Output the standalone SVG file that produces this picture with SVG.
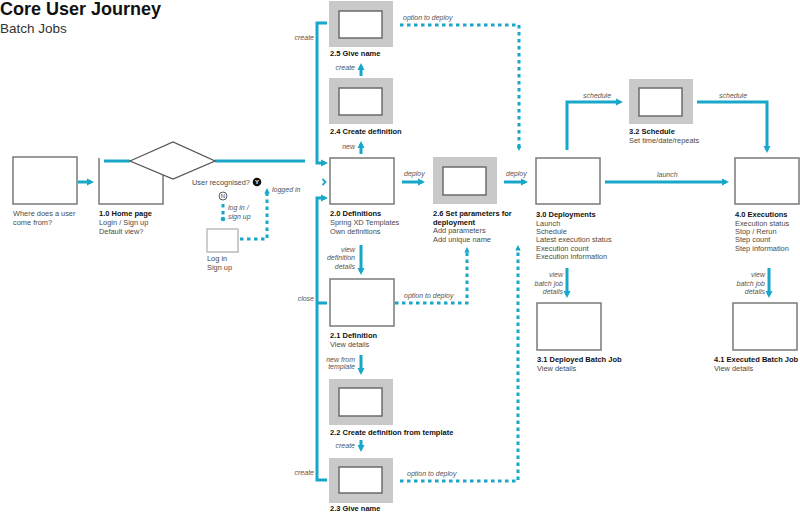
<svg xmlns="http://www.w3.org/2000/svg" width="800" height="512" viewBox="0 0 800 512">
<style>
text{font-family:"Liberation Sans",Arial,Helvetica,sans-serif}
.box{fill:#fff;stroke:#7a7a7a;stroke-width:1.5}
.frame{fill:#c9c9c9}
.inner{fill:#fff;stroke:#6b6b6b;stroke-width:1.5}
.t{font-size:7.4px;fill:#4a4a4a}
.b{font-size:7.5px;font-weight:bold;fill:#111}
.l{font-size:7px;font-style:italic;fill:#555}
.c{fill:none;stroke:#19a7c9;stroke-width:3}
.d{fill:none;stroke:#19a7c9;stroke-width:3;stroke-dasharray:3.5 3.5}
.e{text-anchor:end}
</style>
<defs>
<marker id="ah" markerWidth="8" markerHeight="8" refX="4" refY="4" orient="auto" markerUnits="userSpaceOnUse"><path d="M0,0.5 L7,4 L0,7.5 z" fill="#19a7c9"/></marker>
<marker id="as" markerWidth="7" markerHeight="7" refX="2.5" refY="3.5" orient="auto" markerUnits="userSpaceOnUse"><path d="M0,0.8 L5.5,3.5 L0,6.2 z" fill="#19a7c9"/></marker>
<marker id="dot" markerWidth="6" markerHeight="6" refX="3" refY="3" orient="auto" markerUnits="userSpaceOnUse"><circle cx="3" cy="3" r="2.3" fill="#19a7c9"/></marker>
</defs>
<rect width="800" height="512" fill="#fff"/>
<g id="title">
<text x="0" y="15" style="font-size:18px;font-weight:bold;fill:#111">Core User Journey</text>
<text x="0" y="33" style="font-size:13.5px;fill:#333">Batch Jobs</text>
</g>
<g id="connectors">
<path class="c" d="M78,182 H91" marker-end="url(#ah)"/>
<path class="c" d="M104,161 H130"/>
<path class="c" d="M215,161 H305"/>
<path d="M322.5,179 L325.5,182 L322.5,185" fill="none" stroke="#19a7c9" stroke-width="1.8"/>
<path class="c" d="M327,23 H317 V163 H325" marker-end="url(#ah)"/>
<path class="c" d="M327,480 H317 V198 H325" marker-end="url(#ah)"/>
<path class="c" d="M317,303 H327"/>
<path class="c" d="M361,154 V144" marker-end="url(#ah)"/>
<path class="c" d="M361,76 V66" marker-end="url(#ah)"/>
<path class="c" d="M402,182 H422" marker-end="url(#ah)"/>
<path class="c" d="M504,182 H525" marker-end="url(#ah)"/>
<path class="c" d="M567,150 V102 H620" marker-end="url(#ah)"/>
<path class="c" d="M697,102 H767 V150" marker-end="url(#ah)"/>
<path class="c" d="M605,182 H726" marker-end="url(#ah)"/>
<path class="c" d="M361,245 V272" marker-end="url(#ah)"/>
<path class="c" d="M361,355 V372" marker-end="url(#ah)"/>
<path class="c" d="M361,440 V449" marker-end="url(#ah)"/>
<path class="c" d="M567,268 V295" marker-end="url(#ah)"/>
<path class="c" d="M769,268 V295" marker-end="url(#ah)"/>
<path class="d" d="M400,25 H519 V148" marker-end="url(#as)"/>
<path class="d" d="M395,303 H467 V250" marker-end="url(#as)"/>
<path class="d" d="M400,481 H518 V248" marker-end="url(#as)"/>
<path class="d" d="M223,204 V219" marker-end="url(#dot)"/>
<path class="d" d="M240,239 H267 V191" marker-end="url(#as)"/>
<text class="l e" x="314" y="40">create</text>
<text class="l e" x="314" y="301">close</text>
<text class="l e" x="314" y="475">create</text>
<text class="l" x="403" y="20">option to deploy</text>
<text class="l e" x="355" y="69.5">create</text>
<text class="l e" x="355" y="148.5">new</text>
<text class="l" x="404" y="176">deploy</text>
<text class="l" x="506" y="176">deploy</text>
<text class="l e" x="355" y="252">view</text>
<text class="l e" x="355" y="260">definition</text>
<text class="l e" x="355" y="268.5">details</text>
<text class="l" x="404" y="298">option to deploy</text>
<text class="l e" x="355" y="361.7">new from</text>
<text class="l e" x="355" y="368.5">template</text>
<text class="l e" x="355" y="448">create</text>
<text class="l" x="407" y="476">option to deploy</text>
<text class="l" x="583" y="98">schedule</text>
<text class="l" x="719" y="98">schedule</text>
<text class="l" x="657" y="177">launch</text>
<text class="l e" x="563" y="276.5">view</text>
<text class="l e" x="563" y="285.5">batch job</text>
<text class="l e" x="563" y="293.5">details</text>
<text class="l e" x="765" y="276.5">view</text>
<text class="l e" x="765" y="285.5">batch job</text>
<text class="l e" x="765" y="293.5">details</text>
<text class="l" x="228" y="210">log in /</text>
<text class="l" x="228" y="219">sign up</text>
<text class="l" x="272" y="192">logged in</text>
</g>
<g id="n_source">
<rect class="box" x="13" y="157" width="64" height="47"/>
<text class="t" x="13" y="216">Where does a user</text>
<text class="t" x="13" y="224.5">come from?</text>
</g>
<g id="n_home">
<path class="box" style="fill:none" d="M99,158 V204 H163 V172"/>
<text class="b" x="99" y="216">1.0 Home page</text>
<text class="t" x="99" y="225">Login / Sign up</text>
<text class="t" x="99" y="233.5">Default view?</text>
</g>
<g id="n_decision">
<polygon points="130,161 173,142 215,161 173,179" fill="#fff" stroke="#555" stroke-width="1.3"/>
<text class="t" x="192" y="185">User recognised?</text>
<circle cx="257" cy="182" r="4.3" fill="#111"/>
<text x="257" y="184.2" text-anchor="middle" style="font-size:6px;font-weight:bold;fill:#fff">Y</text>
<circle cx="223" cy="196" r="4" fill="#fff" stroke="#333" stroke-width="0.8"/>
<text x="223" y="198.2" text-anchor="middle" style="font-size:6px;fill:#333">N</text>
</g>
<g id="n_login">
<rect x="208" y="230" width="31" height="23" fill="#e6e6e6"/>
<rect x="207" y="229" width="31" height="23" fill="#fff" stroke="#bdbdbd" stroke-width="1.5"/>
<text class="t" x="207" y="261">Log in</text>
<text class="t" x="207" y="269.5">Sign up</text>
</g>
<g id="n_2_5">
<rect class="frame" x="329" y="1" width="64" height="46"/>
<rect class="inner" x="339" y="11" width="43" height="27"/>
<text class="b" x="330" y="56">2.5 Give name</text>
</g>
<g id="n_2_4">
<rect class="frame" x="329" y="78" width="64" height="46"/>
<rect class="inner" x="339" y="88" width="43" height="27"/>
<text class="b" x="330" y="134">2.4 Create definition</text>
</g>
<g id="n_2_0">
<rect class="box" x="330" y="158" width="64" height="46"/>
<text class="b" x="330" y="216">2.0 Definitions</text>
<text class="t" x="330" y="225">Spring XD Templates</text>
<text class="t" x="330" y="233.5">Own definitions</text>
</g>
<g id="n_2_6">
<rect class="frame" x="433" y="157" width="64" height="47"/>
<rect class="inner" x="443" y="167" width="43" height="28"/>
<text class="b" x="433" y="216">2.6 Set parameters for</text>
<text class="b" x="433" y="224.5">deployment</text>
<text class="t" x="433" y="233">Add parameters</text>
<text class="t" x="433" y="241.5">Add unique name</text>
</g>
<g id="n_2_1">
<rect class="box" x="330" y="279" width="64" height="47"/>
<text class="b" x="330" y="338">2.1 Definition</text>
<text class="t" x="330" y="347">View details</text>
</g>
<g id="n_2_2">
<rect class="frame" x="329" y="379" width="64" height="46"/>
<rect class="inner" x="339" y="388" width="43" height="28"/>
<text class="b" x="330" y="435">2.2 Create definition from template</text>
</g>
<g id="n_2_3">
<rect class="frame" x="329" y="458" width="64" height="45"/>
<rect class="inner" x="339" y="467" width="43" height="26"/>
<text class="b" x="330" y="511">2.3 Give name</text>
</g>
<g id="n_3_0">
<rect class="box" x="536" y="158" width="64" height="46"/>
<text class="b" x="536" y="217">3.0 Deployments</text>
<text class="t" x="536" y="226">Launch</text>
<text class="t" x="536" y="234.2">Schedule</text>
<text class="t" x="536" y="242.4">Latest execution status</text>
<text class="t" x="536" y="250.6">Execution count</text>
<text class="t" x="536" y="258.8">Execution information</text>
</g>
<g id="n_3_2">
<rect class="frame" x="629" y="79" width="64" height="45"/>
<rect class="inner" x="639" y="88" width="43" height="28"/>
<text class="b" x="629" y="134">3.2 Schedule</text>
<text class="t" x="629" y="142.5">Set time/date/repeats</text>
</g>
<g id="n_4_0">
<rect class="box" x="735" y="158" width="64" height="46"/>
<text class="b" x="735" y="217">4.0 Executions</text>
<text class="t" x="735" y="226">Execution status</text>
<text class="t" x="735" y="234.2">Stop / Rerun</text>
<text class="t" x="735" y="242.4">Step count</text>
<text class="t" x="735" y="250.6">Step information</text>
</g>
<g id="n_3_1">
<rect class="box" x="537" y="303" width="64" height="47"/>
<text class="b" x="537" y="362">3.1 Deployed Batch Job</text>
<text class="t" x="537" y="371">View details</text>
</g>
<g id="n_4_1">
<rect class="box" x="733" y="303" width="64" height="47"/>
<text class="b" x="714" y="362">4.1 Executed Batch Job</text>
<text class="t" x="714" y="371">View details</text>
</g>
</svg>
